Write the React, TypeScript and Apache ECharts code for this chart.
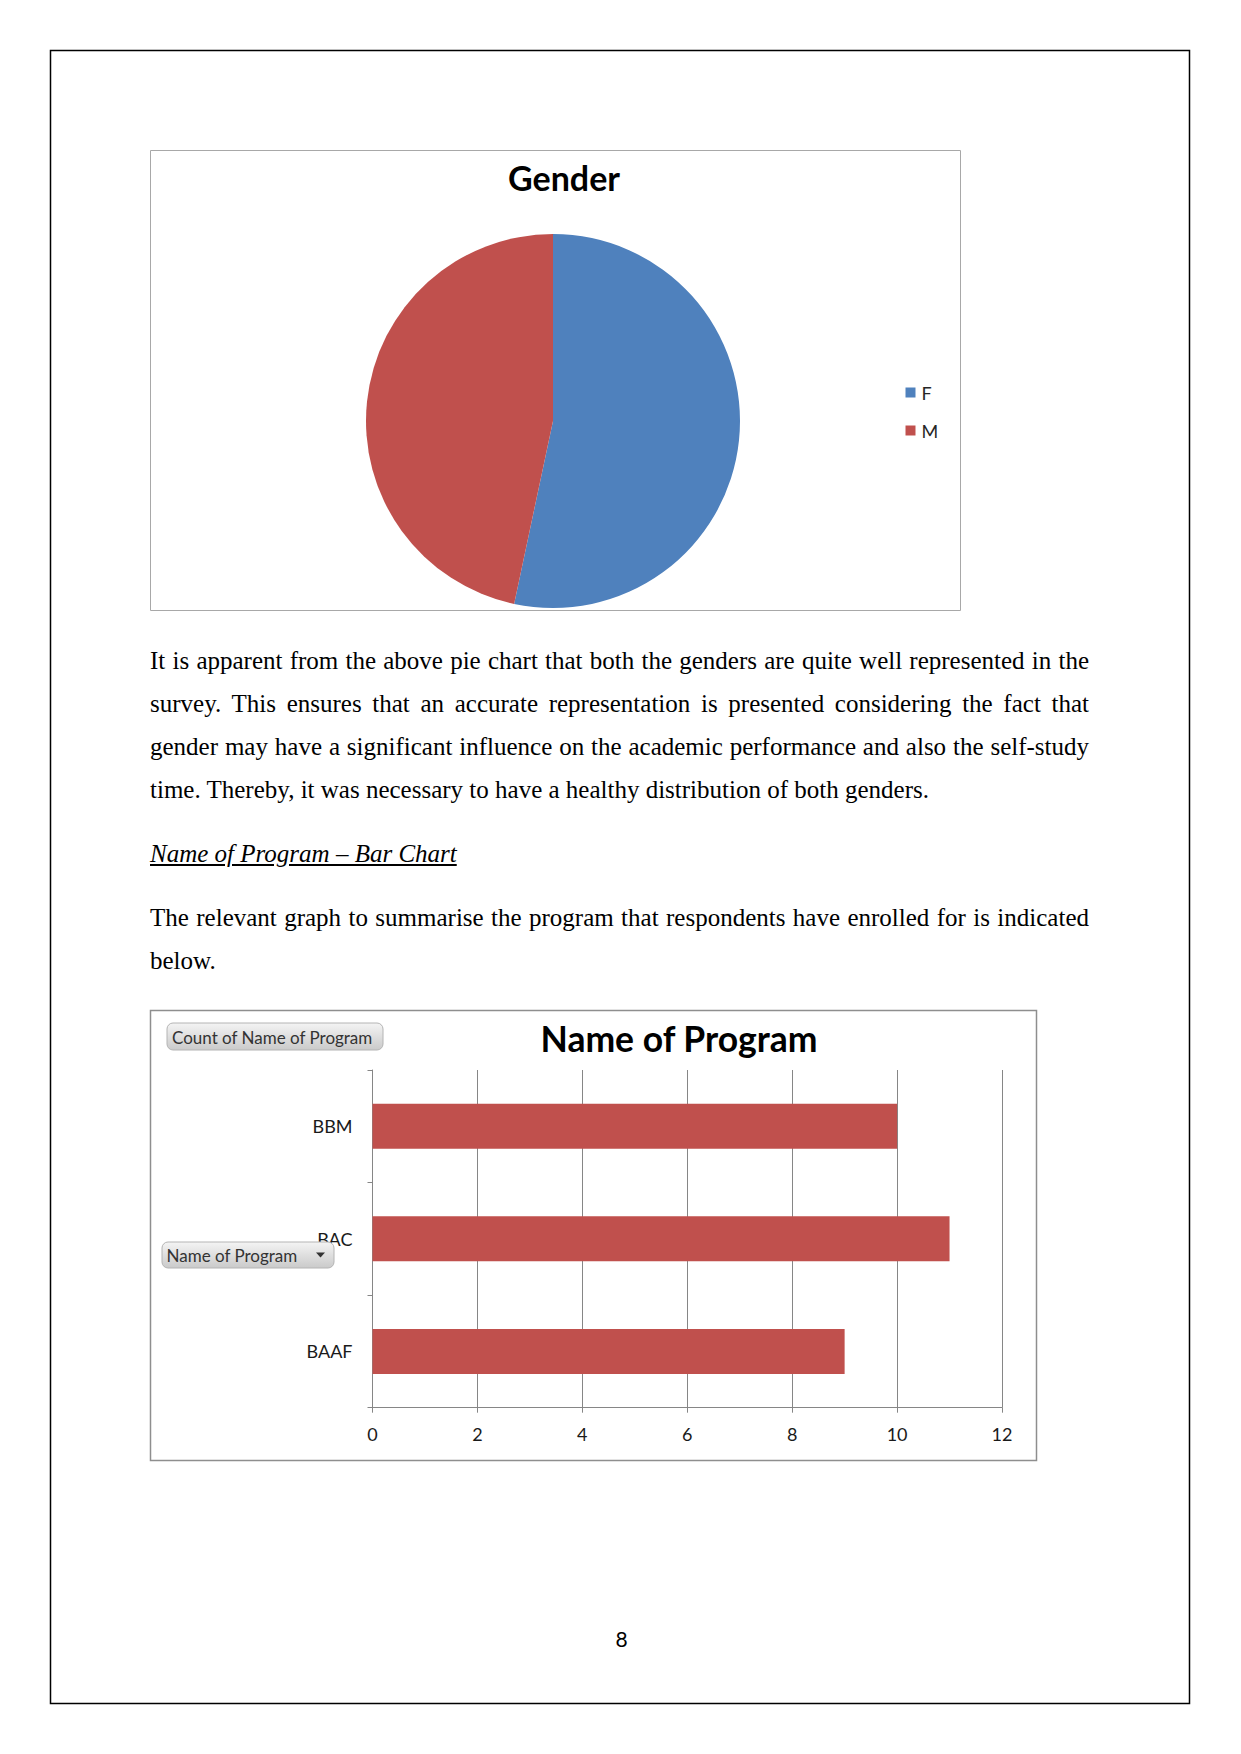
import React, { useEffect, useRef } from 'react';
import * as echarts from 'echarts';

// ---- data ----
const genderNames = ['F', 'M'];
const genderCounts = [16, 14];
const genderColors = ['#4F81BD', '#C0504D'];

const programNames = ['BBM', 'BAC', 'BAAF'];
const programCounts = [10, 11, 9];
const programColor = '#C0504D';
const countAxisMin = 0;
const countAxisMax = 12;
const countAxisStep = 2;

const genderTitle = 'Gender';
const programTitle = 'Name of Program';
const pivotValueButton = 'Count of Name of Program';
const pivotFieldButton = 'Name of Program';

const para1Lines = [
  'It is apparent from the above pie chart that both the genders are quite well represented in the',
  'survey. This ensures that an accurate representation is presented considering the fact that',
  'gender may have a significant influence on the academic performance and also the self-study',
  'time. Thereby, it was necessary to have a healthy distribution of both genders.',
];
const para1Justify = [true, true, true, false];
const headingText = 'Name of Program \u2013 Bar Chart';
const para2Lines = [
  'The relevant graph to summarise the program that respondents have enrolled for is indicated',
  'below.',
];
const para2Justify = [true, false];
const pageNumber = '8';

const FONT_SANS = 'Lato, "Open Sans", sans-serif';
const FONT_SERIF = '"Liberation Serif", "DejaVu Serif", serif';

function TextLine(props: { text: string; baseline: number; justify: boolean }) {
  const { text, baseline, justify } = props;
  return (
    <div
      style={{
        position: 'absolute',
        left: 150,
        width: 939,
        top: baseline - 21,
        height: 25,
        lineHeight: '25px',
        fontSize: 25,
        fontFamily: FONT_SERIF,
        color: '#000',
        whiteSpace: 'nowrap',
        textAlign: justify ? 'justify' : 'left',
        textAlignLast: justify ? 'justify' : 'left',
      } as React.CSSProperties}
    >
      {text}
    </div>
  );
}

export default function App() {
  const ref = useRef<HTMLDivElement>(null);

  useEffect(() => {
    if (!ref.current) return;
    const chart = echarts.init(ref.current, null, { renderer: 'svg' });

    const buttonFill = new echarts.graphic.LinearGradient(0, 0, 0, 1, [
      { offset: 0, color: '#f4f4f4' },
      { offset: 1, color: '#cacaca' },
    ]);
    const buttonFill2 = new echarts.graphic.LinearGradient(0, 0, 0, 1, [
      { offset: 0, color: '#f4f4f4' },
      { offset: 1, color: '#cacaca' },
    ]);

    const option: any = {
      animation: false,
      backgroundColor: '#ffffff',
      legend: {
        data: genderNames,
        orient: 'vertical',
        left: 900.5,
        top: 378.5,
        itemWidth: 10,
        itemHeight: 10,
        itemGap: 20,
        icon: 'rect',
        selectedMode: false,
        textStyle: { fontFamily: FONT_SANS, fontSize: 18, color: '#262626', padding: [0, 0, 0, 1] },
      },
      grid: {
        left: 372.5,
        top: 1070,
        width: 629.5,
        height: 337.7,
        containLabel: false,
      },
      xAxis: {
        type: 'value',
        min: countAxisMin,
        max: countAxisMax,
        interval: countAxisStep,
        axisLine: { show: true, lineStyle: { color: '#868686', width: 1 } },
        axisTick: { show: true, length: 5, lineStyle: { color: '#868686' } },
        splitLine: { show: true, lineStyle: { color: '#868686', width: 1 } },
        axisLabel: { fontFamily: FONT_SANS, fontSize: 18, color: '#1a1a1a', margin: 17 },
      },
      yAxis: {
        type: 'category',
        data: programNames,
        inverse: true,
        axisLine: { show: true, lineStyle: { color: '#868686', width: 1 } },
        axisTick: { show: true, length: 5, lineStyle: { color: '#868686' } },
        splitLine: { show: false },
        axisLabel: { fontFamily: FONT_SANS, fontSize: 18, color: '#1a1a1a', margin: 20 },
      },
      series: [
        {
          type: 'pie',
          name: genderTitle,
          center: [553, 421],
          radius: 187,
          startAngle: 90,
          clockwise: true,
          label: { show: false },
          labelLine: { show: false },
          emphasis: { disabled: true },
          itemStyle: { borderWidth: 0 },
          data: genderNames.map((n, i) => ({ name: n, value: genderCounts[i], itemStyle: { color: genderColors[i] } })),
        },
        {
          type: 'bar',
          name: programTitle,
          data: programCounts,
          barCategoryGap: '60%',
          itemStyle: { color: programColor },
          emphasis: { disabled: true },
        },
      ],
      graphic: [
        {
          type: 'rect',
          shape: { x: 50.5, y: 50.5, width: 1139, height: 1653 },
          style: { fill: 'none', stroke: '#000', lineWidth: 1.5 },
          z: 0,
        },
        {
          type: 'rect',
          shape: { x: 150.5, y: 150.5, width: 810, height: 460 },
          style: { fill: 'none', stroke: '#a8a8a8', lineWidth: 1 },
          z: 0,
        },
        {
          type: 'rect',
          shape: { x: 150.5, y: 1010.5, width: 886, height: 450 },
          style: { fill: 'none', stroke: '#8e8e8e', lineWidth: 1.5 },
          z: 0,
        },
        {
          type: 'text',
          x: 564,
          y: 177,
          style: {
            text: genderTitle,
            fontFamily: FONT_SANS,
            fontWeight: 'bold',
            fontSize: 34,
            fill: '#000',
            align: 'center',
            verticalAlign: 'middle',
          },
          z: 5,
        },
        {
          type: 'text',
          x: 679,
          y: 1038,
          style: {
            text: programTitle,
            fontFamily: FONT_SANS,
            fontWeight: 'bold',
            fontSize: 35.5,
            fill: '#000',
            align: 'center',
            verticalAlign: 'middle',
          },
          z: 5,
        },
        {
          type: 'rect',
          shape: { x: 167, y: 1023, width: 216, height: 27, r: 6 },
          style: { fill: buttonFill, stroke: '#b4b4b4', lineWidth: 1 },
          z: 10,
        },
        {
          type: 'text',
          x: 172,
          y: 1037,
          style: {
            text: pivotValueButton,
            fontFamily: FONT_SANS,
            fontSize: 17,
            fill: '#333',
            align: 'left',
            verticalAlign: 'middle',
          },
          z: 11,
        },
        {
          type: 'rect',
          shape: { x: 162, y: 1242, width: 172, height: 26, r: 6 },
          style: { fill: buttonFill2, stroke: '#b4b4b4', lineWidth: 1 },
          z: 10,
        },
        {
          type: 'text',
          x: 166.5,
          y: 1255,
          style: {
            text: pivotFieldButton,
            fontFamily: FONT_SANS,
            fontSize: 17,
            fill: '#333',
            align: 'left',
            verticalAlign: 'middle',
          },
          z: 11,
        },
        {
          type: 'polygon',
          shape: { points: [[316, 1252.5], [325, 1252.5], [320.5, 1257.5]] },
          style: { fill: '#333' },
          z: 11,
        },
        {
          type: 'text',
          x: 621.5,
          y: 1638,
          style: {
            text: pageNumber,
            fontFamily: FONT_SANS,
            fontSize: 21,
            fill: '#000',
            align: 'center',
            verticalAlign: 'middle',
          },
          z: 5,
        },
      ],
    };

    chart.setOption(option);
    return () => chart.dispose();
  }, []);

  const p1Base = [669.3, 712, 755.3, 798];
  const headBase = 862;
  const p2Base = [926, 969];

  return (
    <div style={{ position: 'absolute', left: 0, top: 0, width: 1241, height: 1754, background: '#fff' }}>
      <div ref={ref} style={{ position: 'absolute', left: 0, top: 0, width: 1241, height: 1754 }} />
      {para1Lines.map((t, i) => (
        <TextLine key={'p1' + i} text={t} baseline={p1Base[i]} justify={para1Justify[i]} />
      ))}
      <div
        style={{
          position: 'absolute',
          left: 150,
          top: headBase - 21,
          height: 25,
          lineHeight: '25px',
          fontSize: 25,
          fontFamily: FONT_SERIF,
          fontStyle: 'italic',
          textDecoration: 'underline',
          whiteSpace: 'nowrap',
          color: '#000',
        }}
      >
        {headingText}
      </div>
      {para2Lines.map((t, i) => (
        <TextLine key={'p2' + i} text={t} baseline={p2Base[i]} justify={para2Justify[i]} />
      ))}
    </div>
  );
}
